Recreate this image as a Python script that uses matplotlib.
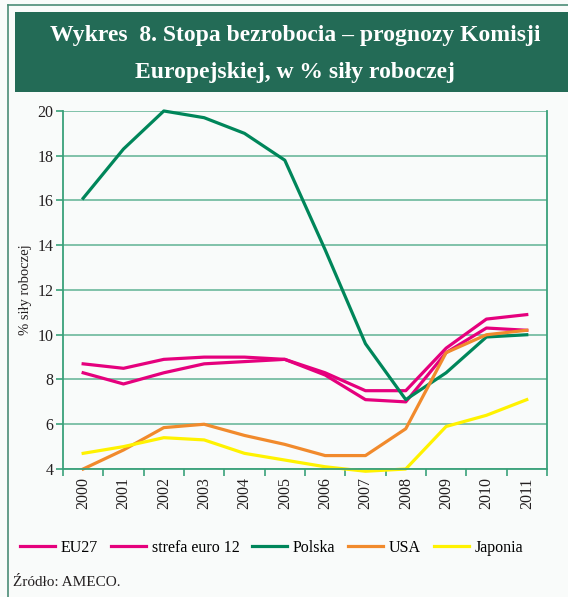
import matplotlib.pyplot as plt
import matplotlib.lines as mlines
from matplotlib.patches import Rectangle
from matplotlib.ticker import FixedLocator

plt.rcParams["font.family"] = ["Liberation Serif", "DejaVu Serif"]

YEARS = ["2000", "2001", "2002", "2003", "2004", "2005",
         "2006", "2007", "2008", "2009", "2010", "2011"]

EU27 = [8.7, 8.5, 8.9, 9.0, 9.0, 8.9, 8.2, 7.1, 7.0, 9.2, 10.3, 10.2]
EURO12 = [8.3, 7.8, 8.3, 8.7, 8.8, 8.9, 8.3, 7.5, 7.5, 9.4, 10.7, 10.9]
POLSKA = [16.1, 18.3, 20.0, 19.7, 19.0, 17.8, 13.8, 9.6, 7.1, 8.3, 9.9, 10.0]
USA = [4.0, 4.85, 5.85, 6.0, 5.5, 5.1, 4.6, 4.6, 5.8, 9.2, 10.0, 10.2]
JAPONIA = [4.7, 5.0, 5.4, 5.3, 4.7, 4.4, 4.1, 3.9, 4.0, 5.9, 6.4, 7.1]

SERIES = [
    ("EU27", EU27, "#e5007d"),
    ("strefa euro 12", EURO12, "#e5007d"),
    ("Polska", POLSKA, "#00865a"),
    ("USA", USA, "#f18a2c"),
    ("Japonia", JAPONIA, "#fff200"),
]

BG = "#f9fbfa"
GRID = "#3aa17a"
BANNER = "#236b56"

fig = plt.figure(figsize=(5.68, 5.97), dpi=100, facecolor=BG)

# outer frame + title banner
fig.add_artist(mlines.Line2D([0.0141, 0.0141], [0.0, 0.9916], transform=fig.transFigure,
                             color="#4c8c76", lw=1.2))
fig.add_artist(mlines.Line2D([0.0141, 1.0], [0.9916, 0.9916], transform=fig.transFigure,
                             color="#4c8c76", lw=1.2))
fig.add_artist(Rectangle((0.0264, 0.846), 0.98, 0.134, transform=fig.transFigure,
                         facecolor=BANNER, edgecolor="none"))
fig.text(0.519, 0.941, "Wykres  8. Stopa bezrobocia – prognozy Komisji",
         ha="center", va="center", color="white", fontsize=17, fontweight="bold")
fig.text(0.519, 0.879, "Europejskiej, w % siły roboczej",
         ha="center", va="center", color="white", fontsize=17, fontweight="bold")

ax = fig.add_axes([0.1109, 0.2144, 0.852, 0.5997], facecolor=BG)
x = range(len(YEARS))
for name, vals, color in SERIES:
    ax.plot(x, vals, color=color, lw=2.3, label=name, clip_on=False)

ax.set_xlim(-0.5, len(YEARS) - 0.5)
ax.set_ylim(4, 20)
ax.set_yticks(range(4, 21, 2))
ax.set_xticks(list(x))
ax.set_xticklabels(YEARS, rotation=90)
ax.xaxis.set_minor_locator(FixedLocator([i - 0.5 for i in range(len(YEARS) + 1)]))
ax.tick_params(axis="x", which="major", length=0, pad=6, labelsize=11.5, colors="#231f20")
ax.tick_params(axis="x", which="minor", length=5, width=1.2, color=GRID)
ax.tick_params(axis="y", length=5, width=1.2, color=GRID, labelsize=11.5,
               labelcolor="#231f20", pad=2)
ax.grid(True, axis="y", color=GRID, lw=1.1, alpha=0.8)
ax.set_axisbelow(True)
for side in ["left", "bottom", "right"]:
    ax.spines[side].set_color(GRID)
    ax.spines[side].set_linewidth(1.3)
ax.spines["top"].set_visible(False)
ax.set_ylabel("% siły roboczej", fontsize=10.5, color="#231f20", labelpad=4)

handles, labels = ax.get_legend_handles_labels()
fig.legend(handles, labels, loc="center", bbox_to_anchor=(0.478, 0.082), ncol=5,
           frameon=False, fontsize=11.5, handlelength=2.2, handletextpad=0.35,
           columnspacing=0.8)

fig.text(0.023, 0.018, "Źródło: AMECO.", fontsize=11, color="#231f20",
         ha="left", va="baseline")

fig.savefig("out.png", dpi=100, facecolor=BG)
